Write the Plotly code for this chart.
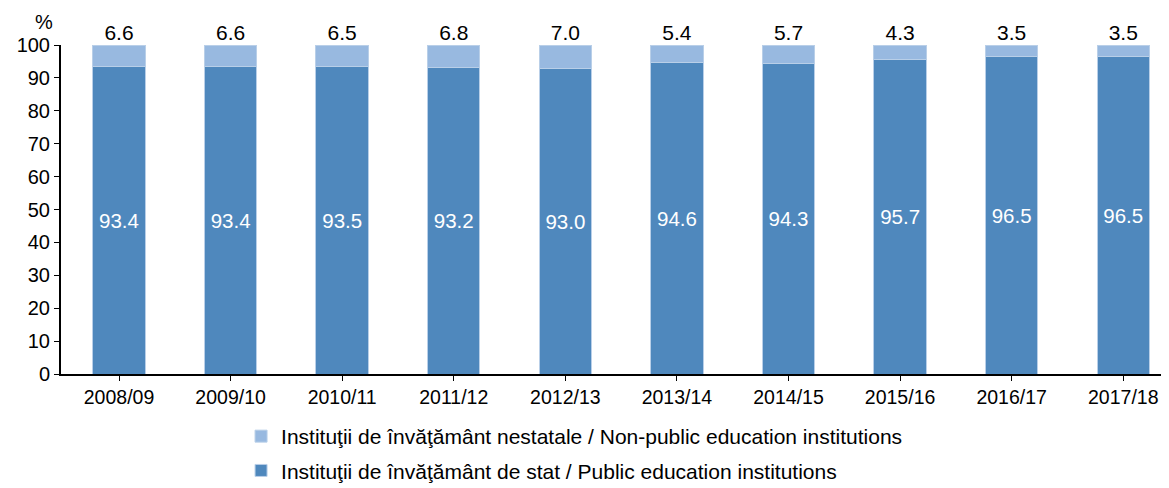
import plotly.graph_objects as go

categories = ["2008/09", "2009/10", "2010/11", "2011/12", "2012/13",
              "2013/14", "2014/15", "2015/16", "2016/17", "2017/18"]
public = [93.4, 93.4, 93.5, 93.2, 93.0, 94.6, 94.3, 95.7, 96.5, 96.5]
nonpublic = [6.6, 6.6, 6.5, 6.8, 7.0, 5.4, 5.7, 4.3, 3.5, 3.5]
y_ticks = [0, 10, 20, 30, 40, 50, 60, 70, 80, 90, 100]

name_public = "Instituţii de învăţământ de stat / Public education institutions"
name_nonpublic = "Instituţii de învăţământ nestatale / Non-public education institutions"

FONT = "Liberation Sans, Arial, sans-serif"
x_idx = list(range(len(categories)))

fig = go.Figure()
fig.add_trace(go.Bar(
    x=x_idx, y=public, name=name_public, legendgroup="b", legendrank=2,
    marker=dict(color="#4F88BD", line=dict(color="#B9CFE8", width=1)),
    width=0.47,
    text=[f"{v:.1f}" for v in public], textposition="inside",
    insidetextanchor="middle",
    textfont=dict(color="white", size=20.5, family=FONT),
))
fig.add_trace(go.Bar(
    x=x_idx, y=nonpublic, name=name_nonpublic, legendgroup="a", legendrank=1,
    marker=dict(color="#98B9E0", line=dict(color="#B9CFE8", width=1)),
    width=0.47,
))
fig.add_trace(go.Scatter(
    x=x_idx, y=[p + n for p, n in zip(public, nonpublic)],
    mode="text", text=[f"{v:.1f}" for v in nonpublic],
    textposition="top center", showlegend=False,
    textfont=dict(color="black", size=21, family=FONT),
    cliponaxis=False, hoverinfo="skip",
))

# the page body adds an 8px margin, so the figure is sized to fit the window
fig.update_layout(
    barmode="stack",
    width=1161, height=480,
    margin=dict(l=53, r=0, t=37, b=114, autoexpand=False),
    plot_bgcolor="white", paper_bgcolor="white",
    font=dict(family=FONT, size=19.5, color="black"),
    uniformtext=dict(mode="show", minsize=10),
    legend=dict(
        traceorder="grouped", orientation="v",
        x=0.1625, xanchor="left", yref="container", y=0.15, yanchor="top",
        font=dict(size=21, family=FONT), tracegroupgap=4,
        itemwidth=30, bgcolor="rgba(0,0,0,0)",
    ),
    xaxis=dict(
        tickmode="array", tickvals=x_idx, ticktext=categories,
        range=[-0.52, 9.41], showline=True, linecolor="black", linewidth=2,
        ticks="outside", ticklen=5, tickcolor="black", tickwidth=1,
        showgrid=False, zeroline=False, automargin=False,
        tickfont=dict(size=19.5),
    ),
    yaxis=dict(
        range=[0, 100], tickvals=y_ticks, showline=True, linecolor="black",
        linewidth=2, ticks="outside", ticklen=5, tickcolor="black",
        showgrid=False, zeroline=False, automargin=False,
        tickfont=dict(size=20),
    ),
    annotations=[dict(text="%", xref="paper", yref="paper", x=-0.015, y=1.0,
                      yshift=10, xanchor="center", yanchor="bottom",
                      showarrow=False, font=dict(size=20))],
)

fig.write_html("out.html")
